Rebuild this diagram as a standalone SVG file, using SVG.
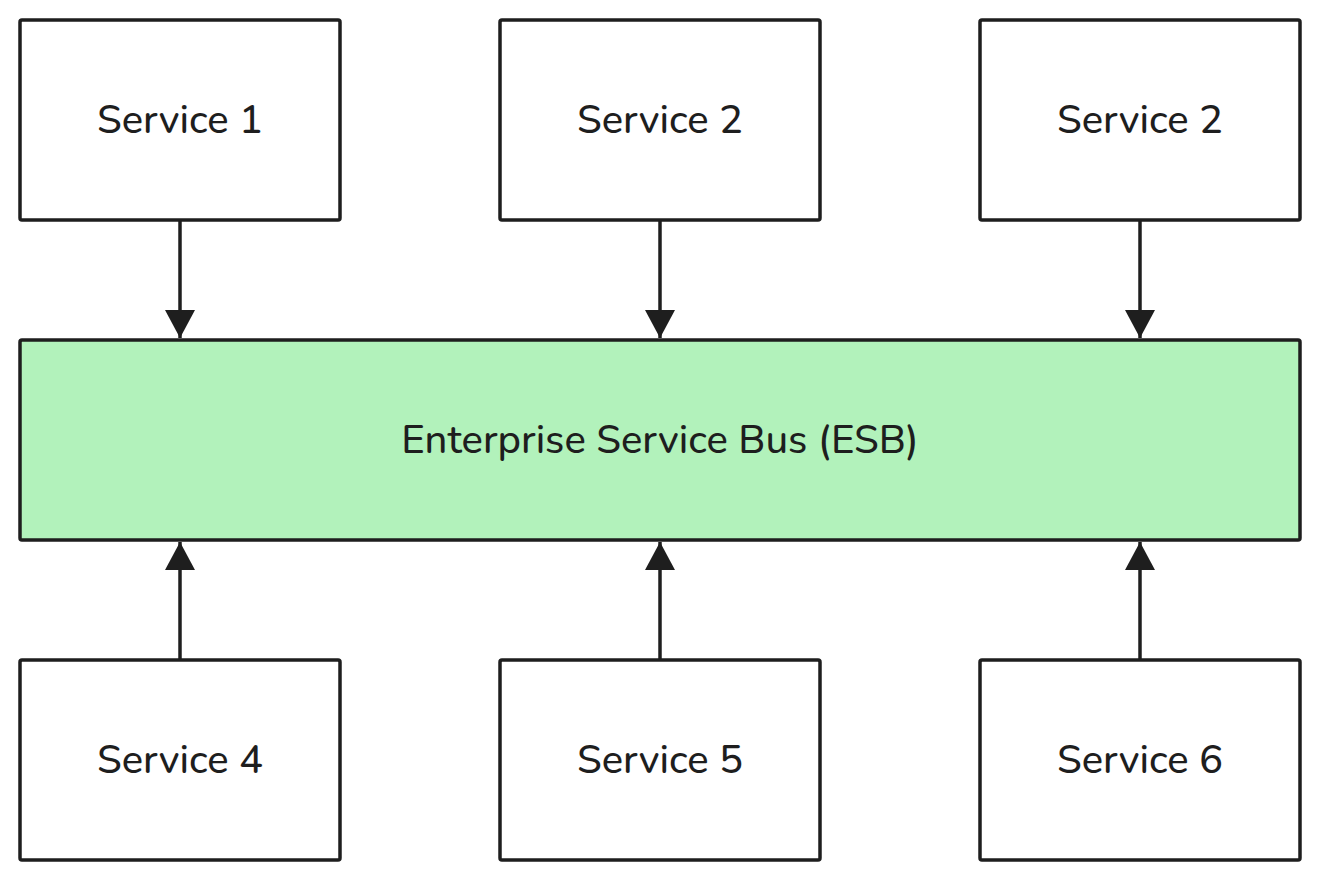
<svg xmlns="http://www.w3.org/2000/svg" width="1320" height="880" viewBox="0 0 1320 880">
<defs>
<style>
.box{fill:#ffffff;stroke:#1e1e1e;stroke-width:3.5}
.bus{fill:#b2f2bb;stroke:#1e1e1e;stroke-width:3.5}
.lbl{font-family:"Nunito","Lato","Open Sans","Liberation Sans",sans-serif;font-size:40px;font-weight:500;fill:#1e1e1e;text-anchor:middle;dominant-baseline:central}
.edge{stroke:#1e1e1e;stroke-width:3.5;fill:none}
.head{fill:#1e1e1e}
</style>
<marker id="arr" viewBox="0 0 28 30" refX="28" refY="15" markerWidth="28" markerHeight="30" markerUnits="userSpaceOnUse" orient="auto">
<path d="M0,0 L28,15 L0,30 Z" class="head"/>
</marker>
</defs>
<rect width="1320" height="880" fill="#ffffff"/>
<g id="connectors">
<line class="edge" x1="180" y1="220" x2="180" y2="338" marker-end="url(#arr)"/>
<line class="edge" x1="660" y1="220" x2="660" y2="338" marker-end="url(#arr)"/>
<line class="edge" x1="1140" y1="220" x2="1140" y2="338" marker-end="url(#arr)"/>
<line class="edge" x1="180" y1="660" x2="180" y2="542" marker-end="url(#arr)"/>
<line class="edge" x1="660" y1="660" x2="660" y2="542" marker-end="url(#arr)"/>
<line class="edge" x1="1140" y1="660" x2="1140" y2="542" marker-end="url(#arr)"/>
</g>
<g id="service1"><rect class="box" x="20" y="20" width="320" height="200" rx="2"/><text class="lbl" x="180" y="120">Service 1</text></g>
<g id="service2a"><rect class="box" x="500" y="20" width="320" height="200" rx="2"/><text class="lbl" x="660" y="120">Service 2</text></g>
<g id="service2b"><rect class="box" x="980" y="20" width="320" height="200" rx="2"/><text class="lbl" x="1140" y="120">Service 2</text></g>
<g id="esb"><rect class="bus" x="20" y="340" width="1280" height="200" rx="2"/><text class="lbl" x="660" y="440">Enterprise Service Bus (ESB)</text></g>
<g id="service4"><rect class="box" x="20" y="660" width="320" height="200" rx="2"/><text class="lbl" x="180" y="760">Service 4</text></g>
<g id="service5"><rect class="box" x="500" y="660" width="320" height="200" rx="2"/><text class="lbl" x="660" y="760">Service 5</text></g>
<g id="service6"><rect class="box" x="980" y="660" width="320" height="200" rx="2"/><text class="lbl" x="1140" y="760">Service 6</text></g>
</svg>
